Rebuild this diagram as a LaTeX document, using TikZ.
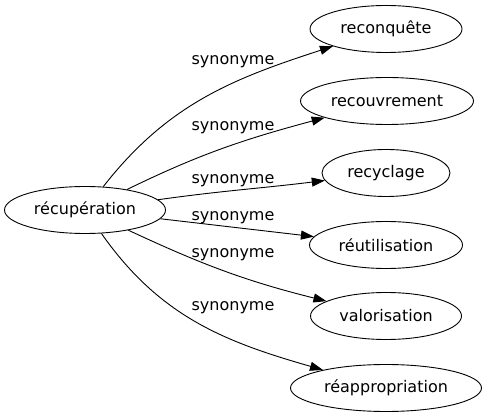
\documentclass[tikz,border=0pt]{standalone}
\usepackage{fontspec}
\setmainfont{DejaVu Sans}
\usetikzlibrary{shapes.geometric,arrows.meta}

\begin{document}
\begin{tikzpicture}[x=1pt,y=1pt,
    mot/.style={draw,ellipse,inner sep=0pt,minimum height=47pt,line width=0.9pt,font=\fontsize{16}{19}\selectfont},
    syn/.style={anchor=base,inner sep=0pt,font=\fontsize{16}{19}\selectfont},
    fleche/.style={-{Triangle[length=13pt,width=9pt]},line width=0.9pt}]
    \useasboundingbox (0,0) rectangle (487,-419);
    % mots
    \node[mot,minimum width=161pt] (recup) at (85,-210) {récupération};
    \node[mot,minimum width=152pt] (reconq) at (386,-29) {reconquête};
    \node[mot,minimum width=173pt] (recouv) at (387,-101) {recouvrement};
    \node[mot,minimum width=128pt] (recycl) at (386,-173) {recyclage};
    \node[mot,minimum width=153pt] (reutil) at (386,-245) {réutilisation};
    \node[mot,minimum width=151pt] (valor) at (386,-316) {valorisation};
    \node[mot,minimum width=191pt] (reappr) at (386,-388) {réappropriation};
    % etiquettes
    \node[syn] (s1) at (233,-65) {synonyme};
    \node[syn] (s2) at (233,-130.5) {synonyme};
    \node[syn] (s3) at (233,-184) {synonyme};
    \node[syn] (s4) at (233,-220.5) {synonyme};
    \node[syn] (s5) at (233,-257.5) {synonyme};
    \node[syn] (s6) at (233,-311) {synonyme};
    % aretes
    \draw[fleche] (recup) to[out=52,in=198] (reconq);
    \draw[fleche] (recup) to[out=26,in=195] (recouv);
    \draw[fleche] (recup) to[out=8,in=187] (recycl);
    \draw[fleche] (recup) -- (reutil);
    \draw[fleche] (recup) to[out=-25,in=166] (valor);
    \draw[fleche] (recup) to[out=-55,in=164] (reappr);
\end{tikzpicture}
\end{document}
